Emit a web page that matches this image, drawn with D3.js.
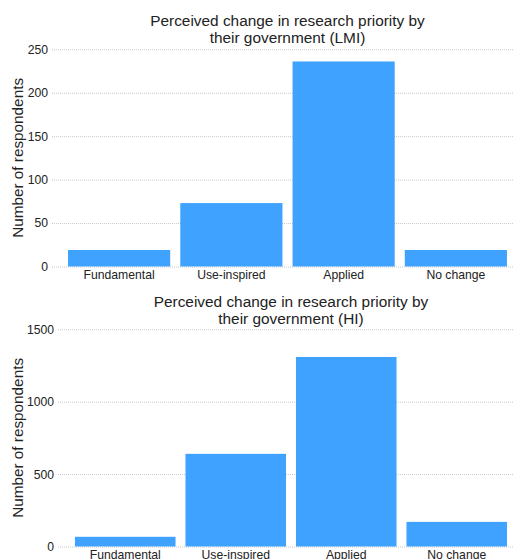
<!DOCTYPE html>
<html>
<head>
<meta charset="utf-8">
<script src="https://cdn.jsdelivr.net/npm/d3@7"></script>
<style>
  body { margin: 0; background: #fff; }
  svg { font-family: "Liberation Sans", Arial, sans-serif; }
</style>
</head>
<body>
<svg id="chart" width="515" height="559"></svg>
<script>
// DATA
const categories = ["Fundamental", "Use-inspired", "Applied", "No change"];
const lmi_values = [19, 73, 236, 19];
const hi_values = [67, 640, 1309, 170];
const lmi_ticks = [0, 50, 100, 150, 200, 250];
const hi_ticks = [0, 500, 1000, 1500];
const titles = [
    ["Perceived change in research priority by", "their government (LMI)"],
    ["Perceived change in research priority by", "their government (HI)"]
];

const svg = d3.select("#chart");

// one panel per income group
function draw_panel(cfg) {
    const g = svg.append("g");

    const y = d3.scaleLinear().domain(cfg.domain).range([cfg.y0, cfg.y1]);
    const x = d3.scaleBand()
        .domain(categories)
        .range(cfg.xr)
        .paddingInner(0.09)
        .paddingOuter(0.045);

    // dotted gridlines
    g.selectAll("line.grid")
        .data(cfg.ticks)
        .join("line")
        .attr("class", "grid")
        .attr("x1", cfg.gx0).attr("x2", 514)
        .attr("y1", d => y(d) + 0.5).attr("y2", d => y(d) + 0.5)
        .attr("stroke", "#c8c8c8")
        .attr("stroke-width", 1)
        .attr("stroke-dasharray", "1,1");

    // y axis labels (no domain line, no tick marks)
    const yAxis = d3.axisLeft(y).tickValues(cfg.ticks).tickFormat(d3.format("d")).tickSize(0).tickPadding(0);
    g.append("g")
        .attr("transform", `translate(${cfg.gx0 - 4},0)`)
        .call(yAxis)
        .call(a => a.select(".domain").remove())
        .selectAll("text")
        .attr("font-size", 12.2)
        .attr("font-family", "Liberation Sans, Arial, sans-serif")
        .attr("fill", "#222");

    // bars
    g.selectAll("rect.bar")
        .data(cfg.values)
        .join("rect")
        .attr("class", "bar")
        .attr("x", (d, i) => x(categories[i]))
        .attr("width", x.bandwidth())
        .attr("y", d => y(d))
        .attr("height", d => y(0) - y(d))
        .attr("fill", "#40a2ff");

    // x axis labels
    const xAxis = d3.axisBottom(x).tickSize(0).tickPadding(4);
    g.append("g")
        .attr("transform", `translate(0,${cfg.y0})`)
        .call(xAxis)
        .call(a => a.select(".domain").remove())
        .selectAll("text")
        .attr("font-size", 12.2)
        .attr("font-family", "Liberation Sans, Arial, sans-serif")
        .attr("fill", "#222");

    // title
    const cx = (cfg.xr[0] + cfg.xr[1]) / 2;
    g.append("text")
        .attr("x", cx)
        .attr("y", cfg.ty)
        .attr("text-anchor", "middle")
        .attr("font-size", 15.4)
        .attr("fill", "#222")
        .selectAll("tspan")
        .data(cfg.title)
        .join("tspan")
        .attr("x", cx)
        .attr("dy", (d, i) => i === 0 ? 0 : 16.5)
        .text(d => d);

    // y axis title
    const cy = (cfg.y0 + cfg.y1) / 2;
    g.append("text")
        .attr("transform", `translate(23,${cy}) rotate(-90)`)
        .attr("text-anchor", "middle")
        .attr("font-size", 15.3)
        .attr("fill", "#222")
        .text("Number of respondents");
}

draw_panel({
    values: lmi_values, ticks: lmi_ticks, domain: [0, 250],
    y0: 266.5, y1: 49.3, xr: [63, 512], gx0: 52, ty: 26, title: titles[0]
});

draw_panel({
    values: hi_values, ticks: hi_ticks, domain: [0, 1500],
    y0: 546.5, y1: 329.3, xr: [70, 512], gx0: 58, ty: 307, title: titles[1]
});
</script>
</body>
</html>
